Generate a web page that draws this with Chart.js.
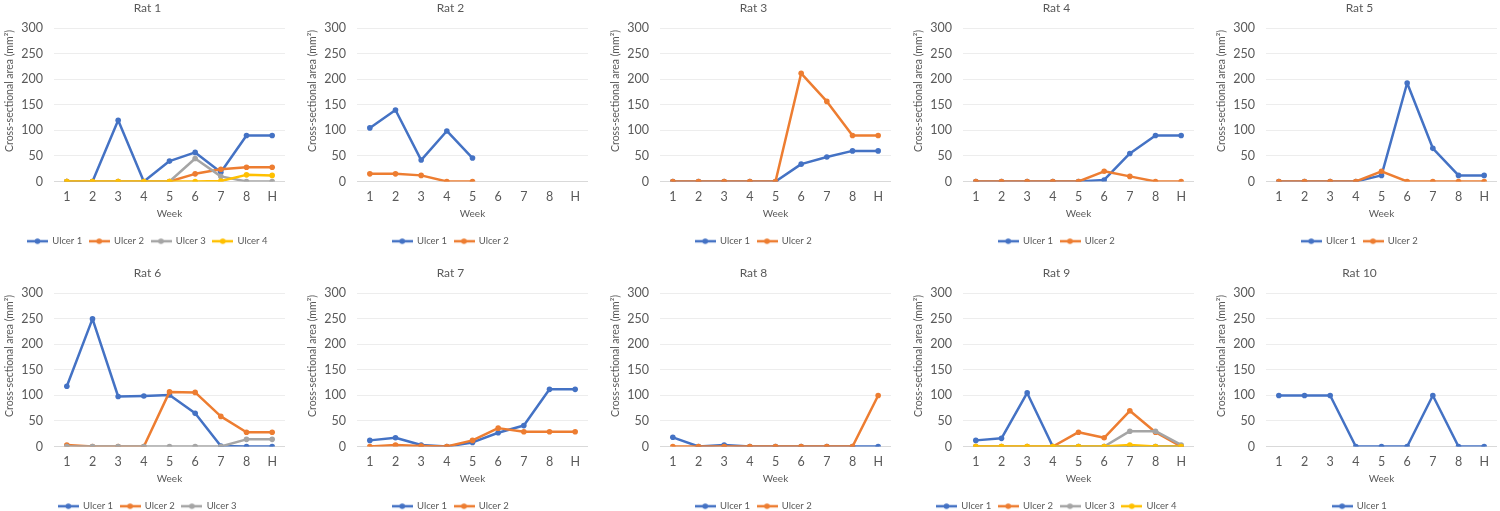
<!DOCTYPE html>
<html>
<head>
<meta charset="utf-8">
<script src="https://cdn.jsdelivr.net/npm/chart.js@4.4.0/dist/chart.umd.min.js"></script>
<style>
    html, body { margin: 0; padding: 0; background: #fff; overflow: hidden; }
    #grid { position: relative; width: 1500px; height: 511px; overflow: hidden; }
    .panel { position: absolute; width: 303px; height: 265px; }
</style>
</head>
<body>
<div id="grid"></div>
<script>
// ===== Data =====
const weeks = ["1", "2", "3", "4", "5", "6", "7", "8", "H"];

const rat1Ulcer1 = [0, 0, 120, 0, 40, 57, 18, 90, 90];
const rat1Ulcer2 = [0, 0, 0, 0, 0, 15, 24, 28, 28];
const rat1Ulcer3 = [0, 0, 0, 0, 0, 45, 10, 0, 0];
const rat1Ulcer4 = [0, 0, 0, 0, 0, 0, 1, 13, 12];

const rat2Ulcer1 = [105, 140, 42, 99, 46, null, null, null, null];
const rat2Ulcer2 = [15, 15, 12, 0, 0, null, null, null, null];

const rat3Ulcer1 = [0, 0, 0, 0, 0, 34, 48, 60, 60];
const rat3Ulcer2 = [0, 0, 0, 0, 0, 212, 157, 90, 90];

const rat4Ulcer1 = [0, 0, 0, 0, 0, 3, 55, 90, 90];
const rat4Ulcer2 = [0, 0, 0, 0, 0, 20, 10, 0, 0];

const rat5Ulcer1 = [0, 0, 0, 0, 12, 193, 65, 12, 12];
const rat5Ulcer2 = [0, 0, 0, 0, 20, 0, 0, 0, 0];

const rat6Ulcer1 = [118, 250, 98, 99, 101, 65, 1, 0, 0];
const rat6Ulcer2 = [3, 0, 0, 0, 107, 106, 59, 28, 28];
const rat6Ulcer3 = [0, 0, 0, 0, 0, 0, 0, 14, 14];

const rat7Ulcer1 = [12, 17, 3, 0, 8, 27, 41, 112, 112];
const rat7Ulcer2 = [0, 3, 1, 0, 12, 36, 29, 29, 29];

const rat8Ulcer1 = [18, 0, 3, 0, 0, 0, 0, 0, 0];
const rat8Ulcer2 = [0, 0, 0, 0, 0, 0, 0, 0, 100];

const rat9Ulcer1 = [12, 16, 105, 0, 0, 0, 0, 0, 0];
const rat9Ulcer2 = [0, 0, 0, 0, 28, 17, 70, 28, 0];
const rat9Ulcer3 = [0, 0, 0, 0, 0, 0, 30, 30, 3];
const rat9Ulcer4 = [0, 0, 0, 0, 0, 0, 3, 0, 0];

const rat10Ulcer1 = [100, 100, 100, 0, 0, 0, 100, 0, 0];

const ratTitles = ["Rat 1", "Rat 2", "Rat 3", "Rat 4", "Rat 5",
                   "Rat 6", "Rat 7", "Rat 8", "Rat 9", "Rat 10"];

const ratSeries = [
    [rat1Ulcer1, rat1Ulcer2, rat1Ulcer3, rat1Ulcer4],
    [rat2Ulcer1, rat2Ulcer2],
    [rat3Ulcer1, rat3Ulcer2],
    [rat4Ulcer1, rat4Ulcer2],
    [rat5Ulcer1, rat5Ulcer2],
    [rat6Ulcer1, rat6Ulcer2, rat6Ulcer3],
    [rat7Ulcer1, rat7Ulcer2],
    [rat8Ulcer1, rat8Ulcer2],
    [rat9Ulcer1, rat9Ulcer2, rat9Ulcer3, rat9Ulcer4],
    [rat10Ulcer1]
];

// ===== Style =====
const ulcerColors = ["#4472C4", "#ED7D31", "#A5A5A5", "#FFC000"];
const textColor = "#595959";
const fontFamily = "Lato, 'Open Sans', sans-serif";

const PANEL_W = 303;
const PANEL_H = 265;

// line + dot marker, like the office legend
function legendMarker(color) {
    const c = document.createElement("canvas");
    c.width = 21;
    c.height = 8;
    const g = c.getContext("2d");
    g.strokeStyle = color;
    g.lineWidth = 2.5;
    g.beginPath();
    g.moveTo(0, 4);
    g.lineTo(21, 4);
    g.stroke();
    g.fillStyle = color;
    g.beginPath();
    g.arc(10.5, 4, 2.8, 0, Math.PI * 2);
    g.fill();
    return c;
}

// y axis title, placed like the reference
const yTitlePlugin = {
    id: "yTitle",
    afterDraw(chart) {
        const ctx = chart.ctx;
        ctx.save();
        ctx.translate(10, 91);
        ctx.rotate(-Math.PI / 2);
        ctx.font = "10.5px " + fontFamily;
        ctx.fillStyle = textColor;
        ctx.textAlign = "center";
        ctx.textBaseline = "middle";
        ctx.fillText("Cross-sectional area (mm²)", 0, 0);
        ctx.restore();
    }
};

function makeChart(idx) {
    const col = idx % 5;
    const row = Math.floor(idx / 5);

    const div = document.createElement("div");
    div.className = "panel";
    div.style.left = (col * PANEL_W) + "px";
    div.style.top = (row * PANEL_H) + "px";

    const canvas = document.createElement("canvas");
    canvas.width = PANEL_W;
    canvas.height = PANEL_H;
    canvas.style.width = PANEL_W + "px";
    canvas.style.height = PANEL_H + "px";
    div.appendChild(canvas);
    document.getElementById("grid").appendChild(div);

    const series = ratSeries[idx];

    return new Chart(canvas, {
        type: "line",
        data: {
            labels: weeks,
            datasets: series.map((d, i) => ({
                label: "Ulcer " + (i + 1),
                data: d,
                borderColor: ulcerColors[i],
                backgroundColor: ulcerColors[i],
                borderWidth: 2.5,
                borderJoinStyle: "round",
                borderCapStyle: "round",
                pointRadius: 2.8,
                pointHoverRadius: 2.8,
                pointBorderWidth: 0,
                tension: 0,
                spanGaps: false,
                order: series.length - i   // later ulcers drawn on top
            }))
        },
        options: {
            responsive: false,
            animation: false,
            events: [],
            layout: { padding: { left: 10, right: 18, top: 0, bottom: 9 } },
            plugins: {
                title: {
                    display: true,
                    text: ratTitles[idx],
                    color: textColor,
                    font: { family: fontFamily, size: 12, weight: "normal" },
                    padding: { top: 1, bottom: 13 }
                },
                legend: {
                    position: "bottom",
                    labels: {
                        usePointStyle: true,
                        pointStyleWidth: 20,
                        padding: 7,
                        color: textColor,
                        font: { family: fontFamily, size: 9.5 },
                        generateLabels(chart) {
                            return chart.data.datasets.map((ds, i) => ({
                                text: ds.label,
                                fillStyle: ds.borderColor,
                                strokeStyle: ds.borderColor,
                                lineWidth: 0,
                                pointStyle: legendMarker(ds.borderColor),
                                fontColor: textColor,
                                hidden: false,
                                datasetIndex: i
                            }));
                        }
                    }
                },
                tooltip: { enabled: false }
            },
            scales: {
                x: {
                    offset: true,
                    grid: { display: false, drawTicks: false, offset: true },
                    border: { display: false },
                    ticks: { color: textColor, font: { family: fontFamily, size: 12.5 }, padding: 8 },
                    title: {
                        display: true,
                        text: "Week",
                        color: textColor,
                        font: { family: fontFamily, size: 10 },
                        padding: { top: 0, bottom: 10 }
                    },
                    afterFit(scale) { scale.height = 48; }
                },
                y: {
                    min: 0,
                    max: 300,
                    ticks: { stepSize: 50, color: textColor, font: { family: fontFamily, size: 12.5 }, padding: 11 },
                    grid: {
                        drawTicks: false,
                        color: c => c.tick.value === 0 ? "#d9d9d9" : "#ededed"
                    },
                    border: { display: false },
                    afterFit(scale) { scale.width = 44; }
                }
            }
        },
        plugins: [yTitlePlugin]
    });
}

for (let i = 0; i < ratSeries.length; i++) {
    makeChart(i);
}
</script>
</body>
</html>
